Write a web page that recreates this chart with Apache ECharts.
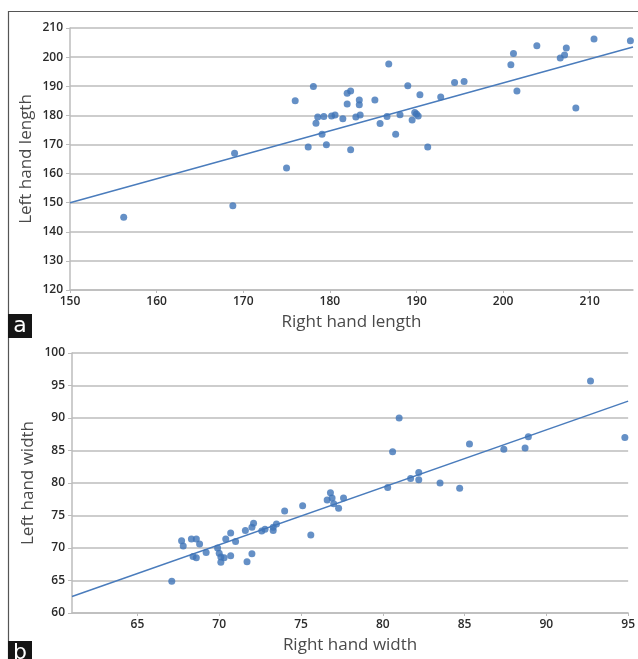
<!DOCTYPE html>
<html>
<head>
<meta charset="utf-8">
<script src="https://cdn.jsdelivr.net/npm/echarts@6/dist/echarts.min.js"></script>
<style>
  html, body { margin: 0; padding: 0; background: #fff; }
  #main { width: 638px; height: 659px; }
</style>
</head>
<body>
<div id="main"></div>
<script>
// panel a: right hand length vs left hand length
var lengthPoints = [
  [156.2, 145.0], [168.8, 148.9], [169.0, 167.0], [175.0, 161.9], [176.0, 185.0],
  [177.5, 169.1], [178.1, 189.9], [178.4, 177.3], [178.6, 179.4], [179.1, 173.5],
  [179.3, 179.6], [179.6, 169.9], [180.2, 179.8], [180.6, 180.1], [181.5, 178.8],
  [182.0, 183.9], [182.0, 187.6], [182.4, 188.4], [182.4, 168.2], [183.0, 179.4],
  [183.4, 185.3], [183.4, 183.6], [183.5, 180.1], [185.2, 185.3], [185.8, 177.2],
  [186.6, 179.6], [186.8, 197.6], [187.6, 173.5], [188.1, 180.2], [189.0, 190.2],
  [189.5, 178.4], [189.8, 181.0], [190.0, 180.5], [190.2, 179.8], [190.4, 187.1],
  [191.3, 169.1], [192.8, 186.3], [194.4, 191.3], [195.5, 191.6], [200.9, 197.4],
  [201.2, 201.2], [201.6, 188.4], [203.9, 203.9], [206.6, 199.7], [207.1, 200.7],
  [207.3, 203.1], [208.4, 182.5], [210.5, 206.2], [214.7, 205.6]
];
var lengthTrend = [[150, 150], [215, 203.5]];
var xTicksA = [150, 160, 170, 180, 190, 200, 210];

// panel b: right hand width vs left hand width
var widthPoints = [
  [67.1, 64.9], [67.7, 71.1], [67.8, 70.3], [68.3, 71.4], [68.6, 71.4],
  [68.4, 68.7], [68.6, 68.5], [68.8, 70.6], [69.2, 69.3], [69.9, 70.0],
  [70.0, 69.2], [70.1, 68.6], [70.1, 67.8], [70.3, 68.5], [70.4, 71.4],
  [70.7, 72.3], [70.7, 68.8], [71.0, 71.0], [71.6, 72.7], [71.7, 67.9],
  [72.0, 69.1], [72.0, 73.2], [72.1, 73.8], [72.6, 72.6], [72.8, 72.9],
  [73.3, 72.7], [73.3, 73.2], [73.5, 73.7], [74.0, 75.7], [75.1, 76.5],
  [75.6, 72.0], [76.6, 77.4], [76.8, 78.5], [76.9, 77.7], [77.0, 76.8],
  [77.3, 76.1], [77.6, 77.7], [80.3, 79.3], [80.6, 84.8], [81.0, 90.0],
  [81.7, 80.7], [82.2, 81.6], [82.2, 80.5], [83.5, 80.0], [84.7, 79.2],
  [85.3, 86.0], [87.4, 85.2], [88.7, 85.4], [88.9, 87.1], [92.7, 95.7],
  [94.8, 87.0]
];
var widthTrend = [[61, 62.55], [95, 92.6]];
var xTicksB = [65, 70, 75, 80, 85, 90, 95];

var dotColor = '#3f74b8';
var lineColor = '#4a7cbc';
var gridGray = '#bcbcbc';
var labelFont = { color: '#2a2a2a', fontSize: 12, fontWeight: 600, fontFamily: 'Open Sans' };
var nameFont = { color: '#4a4a4a', fontSize: 17, fontFamily: 'Open Sans' };

function xAxisOf(idx, min, max, ticks, name) {
  return {
    gridIndex: idx, type: 'value', min: min, max: max,
    name: name, nameLocation: 'middle', nameGap: 24, nameTextStyle: nameFont,
    nameMoveOverlap: false,
    axisLine: { lineStyle: { color: gridGray, width: 1.5 } },
    axisTick: { show: true, length: 3, customValues: ticks, lineStyle: { color: gridGray } },
    axisLabel: Object.assign({ margin: 6, customValues: ticks }, labelFont),
    splitLine: { show: false }
  };
}
function yAxisOf(idx, min, max, step, name) {
  return {
    gridIndex: idx, type: 'value', min: min, max: max, interval: step,
    name: name, nameLocation: 'middle', nameGap: 35, nameTextStyle: nameFont,
    nameMoveOverlap: false,
    axisLine: { show: true, lineStyle: { color: gridGray, width: 1.5 } },
    axisTick: { show: true, length: 4, lineStyle: { color: gridGray } },
    axisLabel: Object.assign({ margin: 7 }, labelFont),
    splitLine: { show: true, lineStyle: { color: gridGray, width: 1.5 } }
  };
}

var chart = echarts.init(document.getElementById('main'));
var option = {
  animation: false,
  grid: [
    { left: 70, top: 28, width: 563, height: 262 },
    { left: 72, top: 353, width: 558, height: 260 }
  ],
  xAxis: [
    xAxisOf(0, 150, 215, xTicksA, 'Right hand length'),
    xAxisOf(1, 61, 95, xTicksB, 'Right hand width')
  ],
  yAxis: [
    yAxisOf(0, 120, 210, 10, 'Left hand length'),
    yAxisOf(1, 60, 100, 5, 'Left hand width')
  ],
  series: [
    { type: 'line', xAxisIndex: 0, yAxisIndex: 0, data: lengthTrend, symbol: 'none',
      lineStyle: { color: lineColor, width: 1.5 }, z: 2 },
    { type: 'scatter', xAxisIndex: 0, yAxisIndex: 0, data: lengthPoints, symbolSize: 7,
      itemStyle: { color: dotColor }, z: 3 },
    { type: 'line', xAxisIndex: 1, yAxisIndex: 1, data: widthTrend, symbol: 'none',
      lineStyle: { color: lineColor, width: 1.5 }, z: 2 },
    { type: 'scatter', xAxisIndex: 1, yAxisIndex: 1, data: widthPoints, symbolSize: 7,
      itemStyle: { color: dotColor }, z: 3 }
  ],
  graphic: [
    { type: 'polyline', shape: { points: [[8.5, 659], [8.5, 11.5], [638, 11.5]] },
      style: { stroke: '#555', lineWidth: 1.2, fill: null } },
    { type: 'rect', shape: { x: 8, y: 314, width: 24, height: 24 }, style: { fill: '#151515' } },
    { type: 'text', x: 20, y: 326, style: { text: 'a', fill: '#fff', font: '22px "DejaVu Sans"',
      align: 'center', verticalAlign: 'middle' } },
    { type: 'rect', shape: { x: 8, y: 641, width: 24, height: 24 }, style: { fill: '#151515' } },
    { type: 'text', x: 20, y: 653, style: { text: 'b', fill: '#fff', font: '22px "DejaVu Sans"',
      align: 'center', verticalAlign: 'middle' } }
  ]
};
chart.setOption(option);
</script>
</body>
</html>
